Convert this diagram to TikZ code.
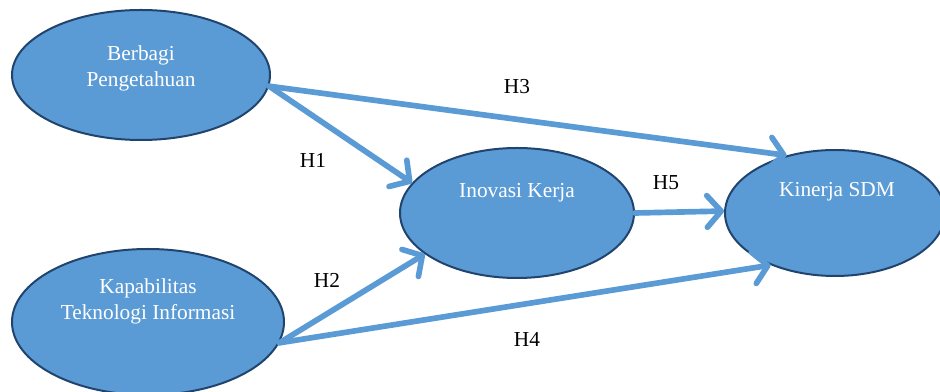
\documentclass[tikz,border=0pt]{standalone}
\usepackage{fontspec}
\setmainfont{Liberation Serif}
\usetikzlibrary{shapes,arrows.meta,positioning}

\definecolor{varfill}{RGB}{91,155,213}
\definecolor{varline}{RGB}{32,68,110}

\begin{document}
\begin{tikzpicture}[
    x=0.6pt, y=-0.6pt,
    font=\fontsize{12.8}{15.5}\selectfont,
    varbox/.style={ellipse, draw=varline, line width=1.2pt, fill=varfill, inner sep=0pt},
    vartext/.style={text=white, align=center},
    hyparrow/.style={-{Straight Barb[length=8.5pt,width=19pt,round]}, draw=varfill, line width=3.4pt, line cap=round},
    hyp/.style={text=black}
]
\useasboundingbox (0,0) rectangle (940,392);

% Variables
\node[varbox, minimum width=154.8pt, minimum height=78pt] (bp) at (141,75) {};
\node[varbox, minimum width=163.2pt, minimum height=87.6pt] (kti) at (148,322) {};
\node[varbox, minimum width=140.4pt, minimum height=78pt] (ik) at (517,213) {};
\node[varbox, minimum width=132pt, minimum height=75.6pt] (ks) at (835,213) {};

% Variable names
\node[vartext] (bp-name) at (141,68) {Berbagi\\Pengetahuan};
\node[vartext] (kti-name) at (148,301) {Kapabilitas\\Teknologi Informasi};
\node[vartext] (ik-name) at (517,193) {Inovasi Kerja};
\node[vartext] (ks-name) at (837,192) {Kinerja SDM};

% Arrows
\draw[hyparrow] (bp.-5) -- (ik.164);
\draw[hyparrow] (bp.-5) -- (ks.130);
\draw[hyparrow] (kti.-9) -- (ik.204);
\draw[hyparrow] (kti.-9) -- (ks.219);
\draw[hyparrow] (ik.east) -- (ks.179);

% Hypotheses
\node[hyp] (h1) at (313,160) {H1};
\node[hyp] (h2) at (327,280) {H2};
\node[hyp] (h3) at (517,87) {H3};
\node[hyp] (h4) at (527,339) {H4};
\node[hyp] (h5) at (666,183) {H5};

\end{tikzpicture}
\end{document}
